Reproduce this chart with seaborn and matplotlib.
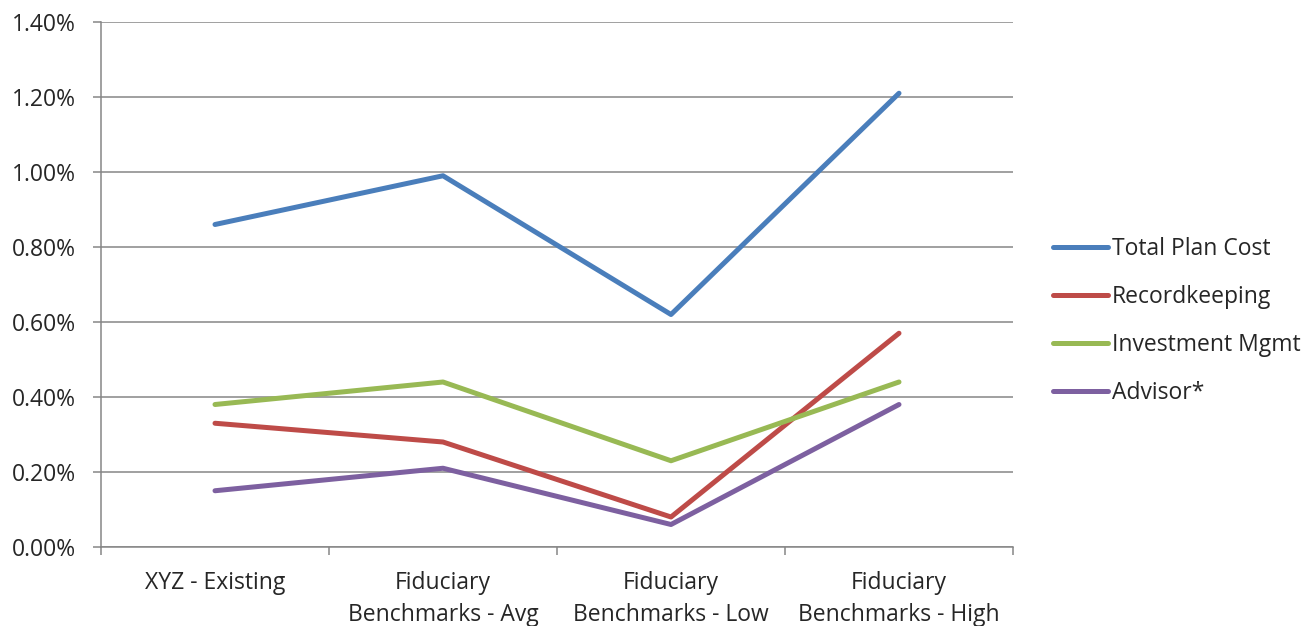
import matplotlib
matplotlib.use("Agg")
import matplotlib.pyplot as plt
from matplotlib.ticker import FuncFormatter, FixedLocator
import seaborn as sns
import pandas as pd

categories = ["XYZ - Existing", "Fiduciary\nBenchmarks - Avg",
              "Fiduciary\nBenchmarks - Low", "Fiduciary\nBenchmarks - High"]
total_plan_cost = [0.86, 0.99, 0.62, 1.21]
recordkeeping = [0.33, 0.28, 0.08, 0.57]
investment_mgmt = [0.38, 0.44, 0.23, 0.44]
advisor = [0.15, 0.21, 0.06, 0.38]
series_names = ["Total Plan Cost", "Recordkeeping", "Investment Mgmt", "Advisor*"]
colors = ["#4A7EBB", "#BE4B48", "#98B954", "#7D60A0"]

rows = []
for name, vals in zip(series_names,
                      [total_plan_cost, recordkeeping, investment_mgmt, advisor]):
    for i, v in enumerate(vals):
        rows.append({"pos": i, "cost": v, "series": name})
df = pd.DataFrame(rows)

sns.set_style("white")
plt.rcParams["font.family"] = ["Open Sans", "DejaVu Sans"]
FS = 16.5

fig = plt.figure(figsize=(13.09, 6.26), dpi=100)
ax = fig.add_axes([101 / 1309, 79 / 626, 912 / 1309, 525 / 626])

sns.lineplot(data=df, x="pos", y="cost", hue="series", hue_order=series_names,
             palette=colors, linewidth=3.6, ax=ax, legend=True)

ax.set_xlim(-0.5, 3.5)
ax.set_ylim(0, 1.4)
ax.set_yticks([0.0, 0.2, 0.4, 0.6, 0.8, 1.0, 1.2, 1.4])
ax.yaxis.set_major_formatter(FuncFormatter(lambda v, p: f"{v:.2f}%"))
ax.grid(axis="y", color="#868686", linewidth=1.1)
ax.set_axisbelow(True)

ax.set_xticks(range(len(categories)))
ax.set_xticklabels(categories, fontsize=FS, linespacing=1.45)
ax.xaxis.set_minor_locator(FixedLocator([-0.5, 0.5, 1.5, 2.5, 3.5]))
ax.tick_params(axis="x", which="major", length=0, pad=17)
ax.tick_params(axis="x", which="minor", length=6, width=1.1, color="#868686",
               direction="out", bottom=True)
ax.tick_params(axis="y", which="major", length=6, width=1.1, color="#868686",
               direction="out", left=True, labelsize=FS, pad=12)
for lbl in ax.get_xticklabels():
    lbl.set_verticalalignment("top")

for side in ["top", "right"]:
    ax.spines[side].set_visible(False)
for side in ["left", "bottom"]:
    ax.spines[side].set_color("#868686")
    ax.spines[side].set_linewidth(1.1)

ax.set_xlabel("")
ax.set_ylabel("")

handles, labels = ax.get_legend_handles_labels()
ax.legend(handles, labels, loc="center left", bbox_to_anchor=(1.044, 0.430),
          frameon=False, fontsize=FS, handlelength=2.4, handletextpad=0.17,
          labelspacing=1.05, borderpad=0, borderaxespad=0)

fig.savefig("out.png", dpi=100)
